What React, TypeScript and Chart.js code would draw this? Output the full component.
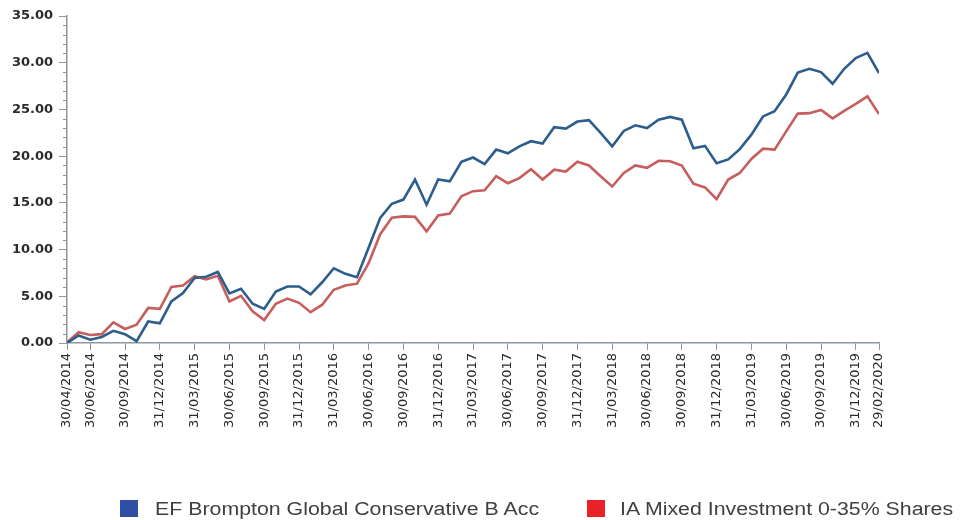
import React, { useEffect, useRef } from "react";
import { Chart, registerables } from "chart.js";

Chart.register(...registerables);

const seriesNames = ["EF Brompton Global Conservative B Acc", "IA Mixed Investment 0-35% Shares"];

// monthly points, index 0 = 30/04/2014 ... index 70 = 29/02/2020
const fundValues = [
  0.0, 0.8, 0.35, 0.65, 1.3, 0.95, 0.2, 2.3, 2.1, 4.45,
  5.35, 6.95, 7.1, 7.6, 5.3, 5.8, 4.2, 3.65, 5.5, 6.05,
  6.05, 5.2, 6.5, 8.0, 7.4, 7.05, 10.2, 13.4, 14.9, 15.35,
  17.5, 14.8, 17.5, 17.3, 19.4, 19.85, 19.15, 20.7, 20.3, 21.05,
  21.6, 21.35, 23.1, 22.95, 23.7, 23.85, 22.5, 21.05, 22.7, 23.3,
  23.0, 23.9, 24.2, 23.9, 20.85, 21.1, 19.25, 19.65, 20.75, 22.3,
  24.25, 24.8, 26.6, 28.95, 29.35, 29.0, 27.75, 29.35, 30.5, 31.05,
  28.9,
];

const sectorValues = [
  0.05, 1.15, 0.85, 0.95, 2.2, 1.5, 1.95, 3.75, 3.65, 6.0,
  6.15, 7.15, 6.8, 7.2, 4.45, 5.05, 3.4, 2.45, 4.2, 4.75,
  4.3, 3.3, 4.1, 5.7, 6.15, 6.35, 8.55, 11.65, 13.4, 13.55,
  13.5, 11.95, 13.65, 13.85, 15.7, 16.25, 16.35, 17.85, 17.1, 17.65,
  18.6, 17.5, 18.55, 18.35, 19.4, 19.0, 17.85, 16.75, 18.2, 19.0,
  18.75, 19.5, 19.45, 19.0, 17.05, 16.65, 15.4, 17.5, 18.2, 19.7,
  20.8, 20.7, 22.65, 24.55, 24.6, 24.95, 24.05, 24.85, 25.6, 26.4,
  24.5,
];

const tickIndexes = [0, 2, 5, 8, 11, 14, 17, 20, 23, 26, 29, 32, 35, 38, 41, 44, 47, 50, 53, 56, 59, 62, 65, 68, 70];
const tickLabels = [
  "30/04/2014", "30/06/2014", "30/09/2014", "31/12/2014", "31/03/2015", "30/06/2015",
  "30/09/2015", "31/12/2015", "31/03/2016", "30/06/2016", "30/09/2016", "31/12/2016",
  "31/03/2017", "30/06/2017", "30/09/2017", "31/12/2017", "31/03/2018", "30/06/2018",
  "30/09/2018", "31/12/2018", "31/03/2019", "30/06/2019", "30/09/2019", "31/12/2019",
  "29/02/2020",
];

const lineColors = ["#2c5d8c", "#c75e5e"];
const legendColors = ["#2e4fa3", "#ea2127"];
const AXIS_COLOR = "#8e959d";

const minorTicks = {
  id: "minorTicks",
  afterDraw(chart: any) {
    const y = chart.scales.y;
    const ctx = chart.ctx;
    const left = chart.chartArea.left;
    ctx.save();
    ctx.strokeStyle = AXIS_COLOR;
    ctx.lineWidth = 1;
    for (let v = 0; v <= 35; v++) {
      if (v % 5 === 0) continue;
      const py = Math.round(y.getPixelForValue(v)) + 0.5;
      ctx.beginPath();
      ctx.moveTo(left - 4, py);
      ctx.lineTo(left, py);
      ctx.stroke();
    }
    ctx.restore();
  },
};

export default function App() {
  const ref = useRef<HTMLCanvasElement | null>(null);

  useEffect(() => {
    if (!ref.current) return;
    const points = (vals: number[]) => vals.map((v, i) => ({ x: i, y: v }));
    const chart = new Chart(ref.current, {
      type: "line",
      data: {
        datasets: [
          {
            label: seriesNames[0],
            data: points(fundValues),
            borderColor: lineColors[0],
            backgroundColor: legendColors[0],
            borderWidth: 2.6,
            pointRadius: 0,
            tension: 0,
          },
          {
            label: seriesNames[1],
            data: points(sectorValues),
            borderColor: lineColors[1],
            backgroundColor: legendColors[1],
            borderWidth: 2.6,
            pointRadius: 0,
            tension: 0,
          },
        ],
      },
      options: {
        animation: false,
        responsive: false,
        maintainAspectRatio: false,
        layout: { padding: { top: 16, right: 83, bottom: 77, left: 0 } },
        plugins: { legend: { display: false }, tooltip: { enabled: false } },
        scales: {
          x: {
            type: "linear",
            min: 0,
            max: 70,
            afterBuildTicks: (scale: any) => {
              scale.ticks = tickIndexes.map((v) => ({ value: v }));
            },
            afterFit: (scale: any) => {
              scale.height = 100;
            },
            ticks: {
              autoSkip: false,
              maxRotation: 90,
              minRotation: 90,
              padding: 3,
              color: "#2b2b2b",
              font: { family: "DejaVu Sans", size: 13 },
              callback: (value: any) => {
                const k = tickIndexes.indexOf(Number(value));
                return k >= 0 ? tickLabels[k] : "";
              },
            },
            grid: {
              display: true,
              drawOnChartArea: false,
              drawTicks: true,
              tickLength: 7,
              color: AXIS_COLOR,
            },
            border: { display: true, color: AXIS_COLOR, width: 1.5 },
          },
          y: {
            min: 0,
            max: 35,
            afterFit: (scale: any) => {
              scale.width = 67;
            },
            ticks: {
              stepSize: 5,
              padding: 6,
              color: "#2b2b2b",
              font: { family: "DejaVu Sans", size: 13, weight: "bold" },
              callback: (value: any) => Number(value).toFixed(2),
            },
            grid: {
              display: true,
              drawOnChartArea: false,
              drawTicks: true,
              tickLength: 8,
              color: AXIS_COLOR,
            },
            border: { display: true, color: AXIS_COLOR, width: 1.5 },
          },
        },
      },
      plugins: [minorTicks],
    });
    return () => chart.destroy();
  }, []);

  const legendText: React.CSSProperties = {
    position: "absolute",
    top: 499,
    fontFamily: "'Liberation Sans', Arial, sans-serif",
    fontSize: 18,
    color: "#404040",
    lineHeight: "20px",
    whiteSpace: "nowrap",
    transform: "scaleX(1.185)",
    transformOrigin: "left center",
  };

  return (
    <div style={{ position: "fixed", left: 0, top: 0, width: 962, height: 520, background: "#fff" }}>
      <canvas ref={ref} width={962} height={520} style={{ position: "absolute", left: 0, top: 0 }} />
      <div style={{ position: "absolute", left: 120, top: 500, width: 18, height: 17, background: legendColors[0] }} />
      <div style={{ ...legendText, left: 155 }}>{seriesNames[0]}</div>
      <div style={{ position: "absolute", left: 587, top: 500, width: 18, height: 17, background: legendColors[1] }} />
      <div style={{ ...legendText, left: 620 }}>{seriesNames[1]}</div>
    </div>
  );
}
